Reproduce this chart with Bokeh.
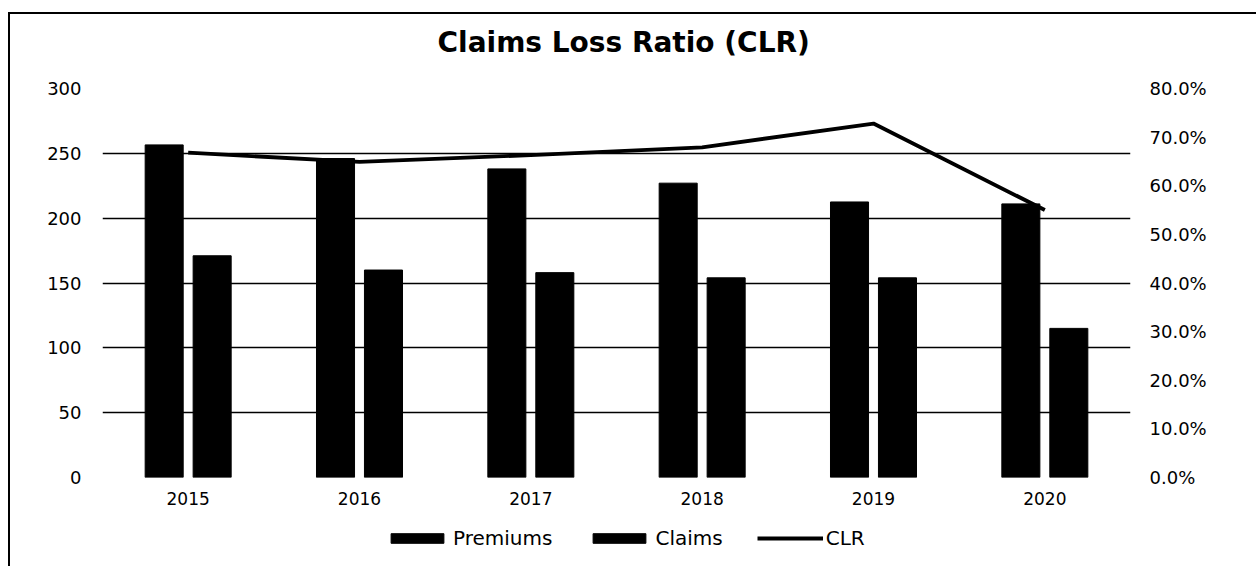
from bokeh.plotting import figure
from bokeh.models import (FactorRange, Range1d, LinearAxis, NumeralTickFormatter,
                          ColumnDataSource, Legend, LegendItem, FixedTicker)
from bokeh.layouts import column
from bokeh.transform import dodge
from bokeh.core.properties import value
from bokeh.embed import file_html
from bokeh.resources import INLINE

title_text = "Claims Loss Ratio (CLR)"
years = ["2015", "2016", "2017", "2018", "2019", "2020"]
premiums = [256.5, 246, 238, 227, 212.5, 211]
claims = [171, 160, 158, 154, 154, 115]
clr = [0.668, 0.649, 0.663, 0.679, 0.728, 0.550]
left_ticks = [0, 50, 100, 150, 200, 250, 300]
right_ticks = [0.0, 0.1, 0.2, 0.3, 0.4, 0.5, 0.6, 0.7, 0.8]
series_names = ["Premiums", "Claims", "CLR"]

src = ColumnDataSource(dict(year=years, premiums=premiums, claims=claims, clr=clr))

FONT = "DejaVu Sans"
W = 1246


def strip(height):
    f = figure(width=W, height=height, x_range=Range1d(0, 1), y_range=Range1d(0, 1),
               output_backend="svg", toolbar_location=None,
               min_border=0, min_border_left=0, min_border_right=0,
               min_border_top=0, min_border_bottom=0)
    f.axis.visible = False
    f.grid.visible = False
    f.outline_line_color = None
    return f


# title strip
tp = strip(56)
tp.text(x=[0.507], y=[0.5], text=[title_text], text_align="center", text_baseline="middle",
        text_font=value(FONT), text_font_size="28px", text_font_style="bold",
        text_color="black")

# main chart
p = figure(width=W, height=440, x_range=FactorRange(*years), y_range=Range1d(0, 300),
           output_backend="svg", toolbar_location=None,
           min_border_left=92, min_border_right=126, min_border_top=18, min_border_bottom=33)
p.outline_line_color = None

p.extra_y_ranges = {"clr": Range1d(0, 0.8)}

p.vbar(x=dodge("year", -0.14, range=p.x_range), top="premiums", width=0.222,
       source=src, fill_color="black", line_color="black")
p.vbar(x=dodge("year", 0.14, range=p.x_range), top="claims", width=0.222,
       source=src, fill_color="black", line_color="black")
p.line(x="year", y="clr", source=src, y_range_name="clr", line_color="black",
       line_width=3.8)

# left axis
ya = p.yaxis[0]
ya.ticker = FixedTicker(ticks=left_ticks)
ya.axis_line_color = None
ya.major_tick_line_color = None
ya.minor_tick_line_color = None
ya.major_label_standoff = 15
ya.major_label_text_font = FONT
ya.major_label_text_font_size = "18px"
ya.major_label_text_color = "black"

# right axis
ra = LinearAxis(y_range_name="clr", ticker=FixedTicker(ticks=right_ticks),
                formatter=NumeralTickFormatter(format="0.0%"))
ra.axis_line_color = None
ra.major_tick_line_color = None
ra.minor_tick_line_color = None
ra.major_label_standoff = 13
ra.major_label_text_font = FONT
ra.major_label_text_font_size = "18px"
ra.major_label_text_color = "black"
p.add_layout(ra, "right")

xa = p.xaxis[0]
xa.axis_line_color = None
xa.major_tick_line_color = None
xa.major_label_standoff = 8
xa.major_label_text_font = FONT
xa.major_label_text_font_size = "17px"
xa.major_label_text_color = "black"

p.xgrid.grid_line_color = None
p.ygrid.grid_line_color = "black"
p.ygrid.grid_line_width = 1.6
p.ygrid.ticker = FixedTicker(ticks=left_ticks)

# legend strip below the chart (sample renderers sit outside its visible range)
lp = strip(56)
lr1 = lp.vbar(x=[-10], top=[-10], width=0.1, fill_color="black", line_color="black")
lr2 = lp.vbar(x=[-10], top=[-10], width=0.1, fill_color="black", line_color="black")
lr3 = lp.line(x=[-10, -9], y=[-10, -10], line_color="black", line_width=3.8)

legend = Legend(items=[LegendItem(label=series_names[0], renderers=[lr1]),
                       LegendItem(label=series_names[1], renderers=[lr2]),
                       LegendItem(label=series_names[2], renderers=[lr3])],
                orientation="horizontal", location=(282, 16))
legend.border_line_color = None
legend.background_fill_alpha = 0
legend.label_text_font = FONT
legend.label_text_font_size = "20px"
legend.label_text_color = "black"
legend.glyph_width = 66
legend.glyph_height = 12
legend.label_standoff = 3
legend.spacing = 34
legend.margin = 0
legend.padding = 0
lp.add_layout(legend)

layout = column(tp, p, lp, spacing=0)
layout.styles = {"border-top": "2px solid black", "border-left": "2px solid black",
                 "margin-top": "12px", "margin-left": "8px"}

open("out.html", "w").write(file_html(layout, INLINE))
